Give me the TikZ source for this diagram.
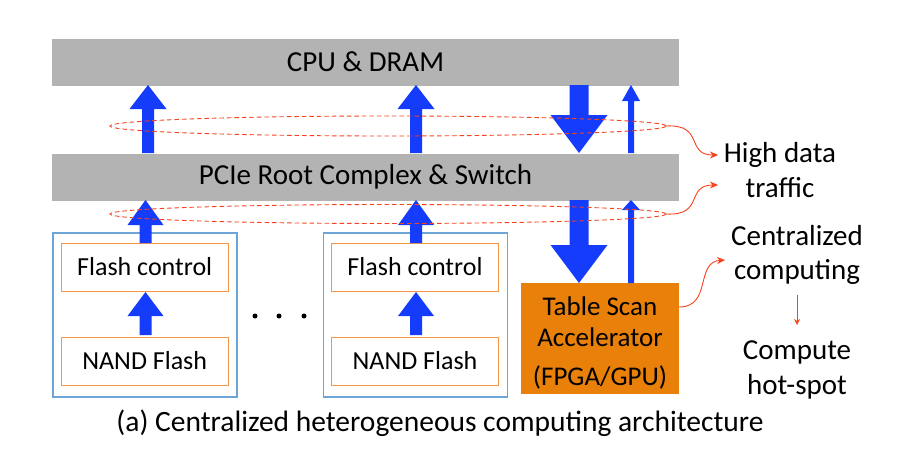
\documentclass[tikz,border=0pt]{standalone}
\usepackage{fontspec}
\setmainfont{Carlito}
\usetikzlibrary{arrows.meta}
\definecolor{boxgray}{RGB}{179,179,179}
\definecolor{arrowblue}{RGB}{20,60,250}
\definecolor{accorange}{RGB}{232,128,10}
\definecolor{lineorange}{RGB}{247,150,70}
\definecolor{lightblue}{RGB}{110,165,215}
\definecolor{hotred}{RGB}{250,65,30}
\newcommand\blkup[6]{\fill[arrowblue] (#1-#5,#2) -- (#1-#5,#4) -- (#1-#6,#4) -- (#1,#3) -- (#1+#6,#4) -- (#1+#5,#4) -- (#1+#5,#2) -- cycle;}
\newcommand\blkdown[6]{\fill[arrowblue] (#1-#5,#2) -- (#1-#5,#4) -- (#1-#6,#4) -- (#1,#3) -- (#1+#6,#4) -- (#1+#5,#4) -- (#1+#5,#2) -- cycle;}
\begin{document}
\begin{tikzpicture}[x=1pt,y=-1pt,
  graybox/.style={fill=boxgray, minimum width=627pt, minimum height=47pt, inner sep=0pt, font=\fontsize{29}{32}\selectfont},
  outerbox/.style={draw=lightblue, line width=1.5pt, minimum width=184pt, minimum height=164pt, inner sep=0pt},
  flashbox/.style={draw=lineorange, line width=1pt, fill=white, minimum width=167pt, minimum height=48pt, inner sep=0pt, font=\fontsize{26}{30}\selectfont},
  accbox/.style={fill=accorange, minimum width=158pt, minimum height=111pt, inner sep=0pt},
  acctext/.style={align=center, inner sep=0pt, font=\fontsize{27}{31}\selectfont},
  ring/.style={draw=hotred, dash pattern=on 4.5pt off 3pt, line width=0.9pt},
  curly/.style={draw=hotred, line width=0.9pt, -{Stealth[length=8pt,width=7pt]}},
  lbl/.style={align=center, font=\fontsize{29}{34.5}\selectfont},
  dot/.style={circle, fill=black, minimum size=5pt, inner sep=0pt}]
\useasboundingbox (0,0) rectangle (904,450);
% boxes
\node[graybox] (cpu) at (365.5,62) {CPU \& DRAM};
\node[graybox] (pcie) at (365.5,177) {PCIe Root Complex \& Switch};
\node[outerbox] (ssd1) at (145,315) {};
\node[outerbox] (ssd2) at (415.5,315) {};
\node[flashbox] (fc1) at (144.7,267) {Flash control};
\node[flashbox] (nf1) at (144.7,361) {NAND Flash};
\node[flashbox] (fc2) at (415,267) {Flash control};
\node[flashbox] (nf2) at (415,361) {NAND Flash};
\node[accbox] (acc) at (600,338.5) {};
\node[acctext] (acct) at (600,343) {Table Scan\\Accelerator\\[8pt](FPGA/GPU)};
\node[dot] (d1) at (255,316) {};
\node[dot] (d2) at (279,316) {};
\node[dot] (d3) at (304,316) {};
% arrows between CPU and PCIe
\blkup{148}{153}{85}{109}{6}{18.5}
\blkup{416}{153}{85}{109}{6}{18.5}
\blkdown{579}{85}{153}{115}{9.5}{28.5}
\blkup{631}{153}{85}{101}{3}{9}
% arrows below PCIe
\blkup{145.5}{243}{200}{225}{6}{18}
\blkup{416}{243}{200}{225}{6}{18}
\blkdown{579}{200}{283}{245}{9.5}{28.5}
\blkup{631}{283}{200}{210}{3}{9}
% arrows inside SSDs
\blkup{145.5}{335}{292}{316}{6}{18}
\blkup{416}{335}{292}{316}{6}{18}
% dashed rings
\draw[ring] (388,126) ellipse [x radius=278, y radius=10];
\draw[ring] (388,214) ellipse [x radius=278, y radius=9.5];
\coordinate (r1) at (666,126);
\coordinate (r2) at (666,214);
% labels
\node[lbl] (hdt) at (780,170) {High data\\traffic};
\node[lbl] (cc) at (797,255) {Centralized\\computing};
\node[lbl] (hs) at (797,370) {Compute\\hot-spot};
\node[font=\fontsize{29.5}{32}\selectfont] (cap) at (440,423) {(a) Centralized heterogeneous computing architecture};
\coordinate (t1) at (718,155);
\coordinate (t2) at (718,185);
\coordinate (t3) at (725,260);
\draw[curly] (r1) .. controls (705,124) and (685,155) .. (t1);
\draw[curly] (r2) .. controls (705,216) and (685,185) .. (t2);
\draw[curly] (acc.east |- 0,307) .. controls (712,307) and (695,262) .. (t3);
\draw[draw=hotred, line width=0.8pt, -{Stealth[length=6pt,width=6pt]}] (797,295) -- (797,325);
\end{tikzpicture}
\end{document}
